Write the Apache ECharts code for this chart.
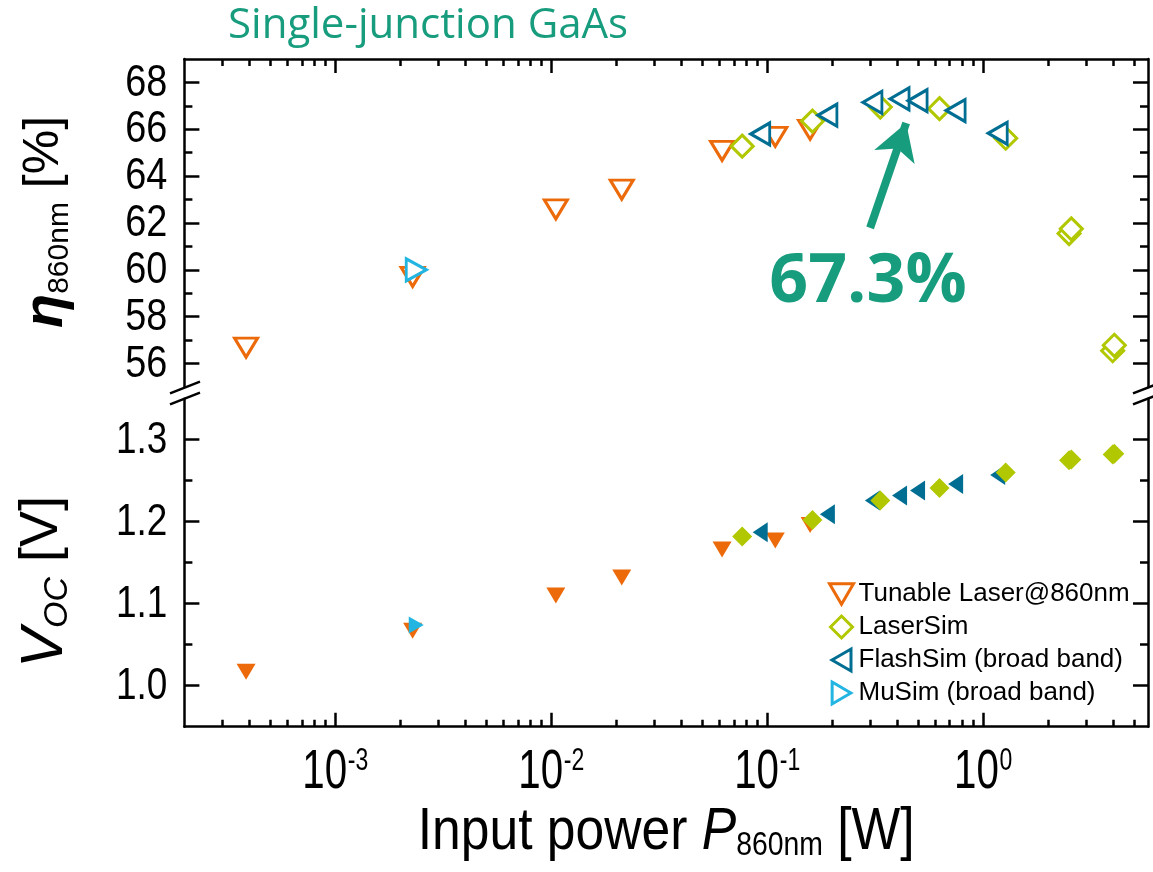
<!DOCTYPE html>
<html><head><meta charset="utf-8">
<script src="https://cdn.jsdelivr.net/npm/echarts@6/dist/echarts.min.js"></script>
<style>html,body{margin:0;padding:0;background:#fff}#c{width:1153px;height:872px}</style>
</head><body><div id="c"></div>
<script>
// ---------------- data ----------------
const tunableP   = [3.86e-4, 2.28e-3, 0.0105, 0.0212, 0.0618, 0.109, 0.158];
const tunableEta = [56.68, 59.70, 62.58, 63.42, 65.08, 65.68, 65.98];
const tunableVoc = [1.017, 1.067, 1.110, 1.132, 1.166, 1.177, 1.196];

const laserP   = [0.0766, 0.162, 0.334, 0.628, 1.272, 2.50, 2.56, 3.98, 4.05];
const laserEta = [65.28, 66.35, 66.95, 66.88, 65.62, 61.55, 61.75, 56.55, 56.78];
const laserVoc = [1.182, 1.202, 1.226, 1.241, 1.260, 1.275, 1.276, 1.282, 1.283];

const flashP   = [0.0928, 0.190, 0.307, 0.410, 0.497, 0.7455, 1.168];
const flashEta = [65.80, 66.60, 67.15, 67.30, 67.22, 66.80, 65.83];
const flashVoc = [1.187, 1.209, 1.226, 1.232, 1.238, 1.246, 1.257];

const musimP   = [2.37e-3];
const musimEta = [60.0];
const musimVoc = [1.074];

const seriesNames = ['Tunable Laser@860nm', 'LaserSim', 'FlashSim (broad band)', 'MuSim (broad band)'];

// axes / ticks
const xMin = 2e-4, xMax = 5.8;
const xTicks = [0.001, 0.01, 0.1, 1];
const xMinorTicks = [];
[1e-4, 1e-3, 1e-2, 1e-1, 1].forEach(d => { for (let k = 2; k <= 9; k++) { const v = +(k * d).toPrecision(3); if (v > xMin * 1.01 && v < xMax * 0.99) xMinorTicks.push(v); } });
const etaMin = 55, etaMax = 69;
const etaTicks = [56, 58, 60, 62, 64, 66, 68];
const etaMinorTicks = [57, 59, 61, 63, 65, 67];
const vocMin = 0.95, vocMax = 1.35;
const vocTicks = [1.0, 1.1, 1.2, 1.3];
const vocMinorTicks = [1.05, 1.15, 1.25];

// annotation
const peakLabel = '67.3%';
const arrowFrom = [0.2996, 61.79];
const arrowTo = [0.44, 66.27];

// ---------------- styling ----------------
const COL = { orange: '#EC6A0A', green: '#B1C800', blue: '#006E92', cyan: '#23B5E2', teal: '#179C7D' };
const FF = '"Liberation Sans", Arial, sans-serif';
const AX = { color: '#000', width: 2.5 };

const zip = (a, b) => a.map((v, i) => [v, b[i]]);

const GL = 184.4, GR = 5;
const grids = [
  { left: GL, right: GR, top: 59, height: 328, outerBoundsMode: 'none' },
  { left: GL, right: GR, top: 398.7, height: 328, outerBoundsMode: 'none' }
];

function xAx(grid, pos, major) {
  return {
    gridIndex: grid, type: 'log', logBase: 10, position: pos, min: xMin, max: xMax,
    axisLine: { show: major, onZero: false, lineStyle: AX },
    axisTick: { show: true, inside: true, length: major ? 14 : 7, lineStyle: AX, customValues: major ? xTicks : xMinorTicks },
    axisLabel: { show: false },
    splitLine: { show: false }, minorTick: { show: false }
  };
}
function yAx(grid, pos, major, min, max, ticks, minor) {
  return {
    gridIndex: grid, type: 'value', position: pos, min: min, max: max,
    axisLine: { show: major, onZero: false, lineStyle: AX },
    axisTick: { show: true, inside: true, length: major ? 15 : 8, lineStyle: AX, customValues: major ? ticks : minor },
    axisLabel: { show: false },
    splitLine: { show: false }, minorTick: { show: false }
  };
}

const xAxes = [
  xAx(0, 'top', true), xAx(0, 'top', false),
  xAx(1, 'bottom', true), xAx(1, 'bottom', false)
];
const yAxes = [
  yAx(0, 'left', true, etaMin, etaMax, etaTicks, etaMinorTicks),
  yAx(0, 'left', false, etaMin, etaMax, etaTicks, etaMinorTicks),
  yAx(0, 'right', true, etaMin, etaMax, etaTicks, etaMinorTicks),
  yAx(0, 'right', false, etaMin, etaMax, etaTicks, etaMinorTicks),
  yAx(1, 'left', true, vocMin, vocMax, vocTicks, vocMinorTicks),
  yAx(1, 'left', false, vocMin, vocMax, vocTicks, vocMinorTicks),
  yAx(1, 'right', true, vocMin, vocMax, vocTicks, vocMinorTicks),
  yAx(1, 'right', false, vocMin, vocMax, vocTicks, vocMinorTicks)
];

function sc(name, data, top, symbol, rot, size, color, z) {
  return {
    type: 'scatter', name: name, data: data,
    xAxisIndex: top ? 0 : 2, yAxisIndex: top ? 0 : 4,
    symbol: symbol, symbolRotate: rot, symbolSize: size, z: z,
    itemStyle: top ? { color: '#fff', borderColor: color, borderWidth: 3, opacity: 1 } : { color: color, borderWidth: 0, opacity: 1 },
    emphasis: { disabled: true }, silent: true
  };
}

const series = [
  sc(seriesNames[0], zip(tunableP, tunableEta), true, 'triangle', 180, [23, 19], COL.orange, 2),
  sc(seriesNames[1], zip(laserP, laserEta), true, 'diamond', 0, [22, 22], COL.green, 3),
  Object.assign(sc(seriesNames[2], zip(flashP, flashEta), true, 'triangle', 90, [22, 19], COL.blue, 4), {
    markLine: {
      silent: true, symbol: ['none', 'arrow'], symbolSize: [32, 36], animation: false,
      lineStyle: { color: COL.teal, width: 8, type: 'solid', opacity: 1 },
      label: { show: false }, emphasis: { disabled: true },
      data: [[{ coord: arrowFrom }, { coord: arrowTo }]]
    }
  }),
  sc(seriesNames[3], zip(musimP, musimEta), true, 'triangle', -90, [22, 20], COL.cyan, 5),
  sc('Voc ' + seriesNames[0], zip(tunableP, tunableVoc), false, 'triangle', 180, [19, 16], COL.orange, 2),
  sc('Voc ' + seriesNames[2], zip(flashP, flashVoc), false, 'triangle', 90, [20, 15], COL.blue, 3),
  sc('Voc ' + seriesNames[1], zip(laserP, laserVoc), false, 'diamond', 0, [20, 20], COL.green, 4),
  sc('Voc ' + seriesNames[3], zip(musimP, musimVoc), false, 'triangle', -90, [17, 15], COL.cyan, 5)
];

const legendIcons = [
  'path://M0,0L22,0L11,19Z',
  'path://M11,0L22,11L11,22L0,11Z',
  'path://M0,11L19,0L19,22Z',
  'path://M0,0L17,10L0,20Z'
];

function breakMark(cx) {
  return [
    { type: 'line', shape: { x1: cx - 15, y1: 393.3, x2: cx + 15, y2: 381.7 }, style: { stroke: '#000', lineWidth: 2.5 }, z: 10 },
    { type: 'line', shape: { x1: cx - 15, y1: 404.3, x2: cx + 15, y2: 392.7 }, style: { stroke: '#000', lineWidth: 2.5 }, z: 10 }
  ];
}

const chart = echarts.init(document.getElementById('c'), null, { renderer: 'canvas' });
chart.setOption({
  animation: false,
  backgroundColor: '#fff',
  grid: grids,
  xAxis: xAxes,
  yAxis: yAxes,
  legend: {
    data: seriesNames.map((n, i) => ({ name: n, icon: legendIcons[i] })),
    orient: 'vertical', left: 828, top: 581, padding: 0,
    itemWidth: 24, itemHeight: 22, itemGap: 7,
    textStyle: { fontSize: 26, fontFamily: FF, color: '#000' },
    itemStyle: { borderWidth: 3 },
    selectedMode: false
  },
  series: series
});

// ---- texts (tick labels placed through the chart's own scales) ----
const g = [];
xTicks.forEach(v => {
  const p = chart.convertToPixel({ xAxisIndex: 2, yAxisIndex: 4 }, [v, vocMin]);
  g.push({ type: 'text', x: p[0], y: p[1] + 18, scaleX: 0.72, silent: true, style: {
    text: '{b|10}{s|' + Math.round(Math.log10(v)) + '}', align: 'center', verticalAlign: 'top',
    rich: {
      b: { fontSize: 56, lineHeight: 56, fontFamily: FF, fill: '#000', verticalAlign: 'top' },
      s: { fontSize: 32, lineHeight: 32, fontFamily: FF, fill: '#000', verticalAlign: 'top', padding: [0, 0, 0, 1] }
    } } });
});
etaTicks.forEach(v => {
  const p = chart.convertToPixel({ xAxisIndex: 0, yAxisIndex: 0 }, [xMin, v]);
  g.push({ type: 'text', x: p[0] - 17, y: p[1] + 1, scaleX: 0.86, silent: true, style: {
    text: String(v), fontSize: 44, fontFamily: FF, fill: '#000', align: 'right', verticalAlign: 'middle' } });
});
vocTicks.forEach(v => {
  const p = chart.convertToPixel({ xAxisIndex: 2, yAxisIndex: 4 }, [xMin, v]);
  g.push({ type: 'text', x: p[0] - 17, y: p[1] + 1, scaleX: 0.84, silent: true, style: {
    text: v.toFixed(1), fontSize: 44, fontFamily: FF, fill: '#000', align: 'right', verticalAlign: 'middle' } });
});
// x-axis title
g.push({ type: 'text', x: (GL + 1148) / 2, y: 802, scaleX: 0.86, silent: true, style: {
  text: '{t|Input power }{p|P}{sub|860nm}{t| [W]}', align: 'center', verticalAlign: 'top',
  rich: {
    t: { fontSize: 60, lineHeight: 60, fontFamily: FF, fill: '#000', verticalAlign: 'top' },
    p: { fontSize: 60, lineHeight: 60, fontFamily: FF, fontStyle: 'italic', fill: '#000', verticalAlign: 'top' },
    sub: { fontSize: 33, lineHeight: 33, fontFamily: FF, fill: '#000', verticalAlign: 'bottom', padding: [40, 0, 0, 0] }
  } } });
// y-axis titles
g.push({ type: 'text', x: 47, y: 222, rotation: Math.PI / 2, silent: true, style: {
  text: '{e|η}{s|860nm}{t| [%]}', align: 'center', verticalAlign: 'middle',
  rich: {
    e: { fontSize: 56, lineHeight: 56, fontFamily: FF, fontWeight: 'bold', fontStyle: 'italic', fill: '#000', verticalAlign: 'top' },
    s: { fontSize: 30, lineHeight: 30, fontFamily: FF, fill: '#000', verticalAlign: 'bottom', padding: [38, 0, 0, 0] },
    t: { fontSize: 50, lineHeight: 56, fontFamily: FF, fill: '#000', verticalAlign: 'top' }
  } } });
g.push({ type: 'text', x: 45, y: 582, rotation: Math.PI / 2, silent: true, style: {
  text: '{v|V}{s|OC}{t| [V]}', align: 'center', verticalAlign: 'middle',
  rich: {
    v: { fontSize: 60, lineHeight: 60, fontFamily: FF, fontStyle: 'italic', fill: '#000', verticalAlign: 'top' },
    s: { fontSize: 34, lineHeight: 34, fontFamily: FF, fontStyle: 'italic', fill: '#000', verticalAlign: 'bottom', padding: [38, 0, 0, 0] },
    t: { fontSize: 54, lineHeight: 60, fontFamily: FF, fill: '#000', verticalAlign: 'top' }
  } } });
// title & annotation
g.push({ type: 'text', x: 228, y: 26, silent: true, style: { text: 'Single-junction GaAs', fill: COL.teal, fontSize: 42, fontFamily: '"Open Sans", "Noto Sans", sans-serif', align: 'left', verticalAlign: 'middle' } });
g.push({ type: 'text', x: 868, y: 283, silent: true, style: { text: peakLabel, fill: COL.teal, fontSize: 68, fontWeight: 'bold', fontFamily: '"Open Sans", "Noto Sans", sans-serif', align: 'center', verticalAlign: 'middle' } });

chart.setOption({ graphic: g.concat(breakMark(185), breakMark(1148)) });
</script></body></html>
